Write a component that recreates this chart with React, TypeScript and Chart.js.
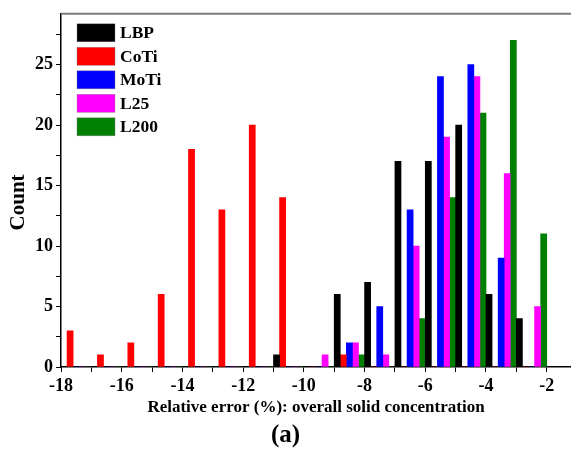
import React, { useEffect, useRef } from 'react';
import { Chart, registerables } from 'chart.js';

Chart.register(...registerables);

// ---- data ----
const binStarts = [-18, -17, -16, -15, -14, -13, -12, -11, -10, -9, -8, -7, -6, -5, -4, -3];
const seriesNames = ['LBP', 'CoTi', 'MoTi', 'L25', 'L200'];
const lbpCounts = [0, 0, 0, 0, 0, 0, 0, 1, 0, 6, 7, 17, 17, 20, 6, 4];
const cotiCounts = [3, 1, 2, 6, 18, 13, 20, 14, 0, 1, 0, 0, 0, 0, 0, 0];
const motiCounts = [0, 0, 0, 0, 0, 0, 0, 0, 0, 2, 5, 13, 24, 25, 9, 0];
const l25Counts = [0, 0, 0, 0, 0, 0, 0, 0, 1, 2, 1, 10, 19, 24, 16, 5];
const l200Counts = [0, 0, 0, 0, 0, 0, 0, 0, 0, 1, 0, 4, 14, 21, 27, 11];
const xTickValues = [-18, -17, -16, -15, -14, -13, -12, -11, -10, -9, -8, -7, -6, -5, -4, -3, -2];
const yTickValues = [0, 2.5, 5, 7.5, 10, 12.5, 15, 17.5, 20, 22.5, 25, 27.5];
const xTitle = 'Relative error (%): overall solid concentration';
const yTitle = 'Count';
const panelLabel = '(a)';

const seriesCounts = [lbpCounts, cotiCounts, motiCounts, l25Counts, l200Counts];
const seriesColors = ['#000000', '#ff0000', '#0000ff', '#ff00ff', '#008000'];

const SERIF = '"Liberation Serif", "Times New Roman", serif';

const framePlugin = {
  id: 'frameAndLegend',
  afterDraw(chart: any) {
    const ctx = chart.ctx;
    const { left, right, top, bottom } = chart.chartArea;
    ctx.save();
    // top frame line
    ctx.strokeStyle = '#7a7a7a';
    ctx.lineWidth = 2;
    ctx.beginPath();
    ctx.moveTo(left, top);
    ctx.lineTo(right, top);
    ctx.stroke();

    // legend inside plot
    chart.data.datasets.forEach((ds: any, i: number) => {
      const y = top + 10 + i * 23.5;
      const x = left + 16;
      ctx.fillStyle = ds.backgroundColor;
      ctx.fillRect(x, y, 38, 18);
      ctx.strokeStyle = 'rgba(120,120,120,0.6)';
      ctx.lineWidth = 0.6;
      ctx.strokeRect(x, y, 38, 18);
      ctx.fillStyle = '#000';
      ctx.font = `bold 17.5px ${SERIF}`;
      ctx.textAlign = 'left';
      ctx.textBaseline = 'middle';
      ctx.fillText(ds.label, x + 43, y + 10);
    });

    // y axis title
    ctx.translate(19, (top + bottom) / 2 + 12);
    ctx.rotate(-Math.PI / 2);
    ctx.fillStyle = '#000';
    ctx.font = `bold 21px ${SERIF}`;
    ctx.textAlign = 'center';
    ctx.textBaseline = 'middle';
    ctx.fillText(yTitle, 0, 0);
    ctx.restore();
  },
};

export default function App() {
  const canvasRef = useRef<HTMLCanvasElement | null>(null);

  useEffect(() => {
    document.body.style.margin = '0';
    const canvas = canvasRef.current;
    if (!canvas) return;

    const datasets = seriesNames.map((name, i) => ({
      label: name,
      data: binStarts.map((b, j) => ({ x: b + 0.5, y: seriesCounts[i][j] })),
      backgroundColor: seriesColors[i],
      borderWidth: 0,
      categoryPercentage: 1,
      barPercentage: 1,
    }));

    const chart = new Chart(canvas, {
      type: 'bar',
      data: { datasets },
      plugins: [framePlugin],
      options: {
        responsive: false,
        animation: false,
        devicePixelRatio: 1,
        layout: { padding: { top: 13, left: 0, right: 0, bottom: 0 } },
        plugins: {
          legend: { display: false },
          tooltip: { enabled: false },
          title: {
            display: true,
            position: 'bottom',
            text: panelLabel,
            color: '#000',
            font: { family: SERIF, size: 25, weight: 'bold', lineHeight: 1 },
            padding: { top: 0, bottom: 2.5 },
          },
        },
        scales: {
          x: {
            type: 'linear',
            min: -18,
            max: -1.2,
            offset: false,
            afterBuildTicks: (s: any) => {
              s.ticks = xTickValues.map((v) => ({ value: v }));
            },
            afterFit: (s: any) => {
              s.height = 56.5;
            },
            ticks: {
              autoSkip: false,
              maxRotation: 0,
              padding: 4,
              color: '#000',
              font: { family: SERIF, size: 18, weight: 'bold' },
              callback: (v: any) => (Number(v) % 2 === 0 ? String(v) : ''),
            },
            grid: { drawOnChartArea: false, drawTicks: true, tickLength: 5, color: '#000', offset: false },
            border: { color: '#000', width: 1.5 },
            title: {
              display: true,
              text: xTitle,
              color: '#000',
              font: { family: SERIF, size: 17, weight: 'bold' },
              padding: { top: 0, bottom: 5.3 },
            },
          },
          y: {
            type: 'linear',
            min: 0,
            max: 29.2,
            afterBuildTicks: (s: any) => {
              s.ticks = yTickValues.map((v) => ({ value: v }));
            },
            afterFit: (s: any) => {
              s.width = 61;
            },
            ticks: {
              padding: 3,
              color: '#000',
              font: { family: SERIF, size: 18, weight: 'bold' },
              callback: (v: any) => (Number(v) % 5 === 0 ? String(v) : ''),
            },
            grid: { drawOnChartArea: false, drawTicks: true, tickLength: 5, color: '#000' },
            border: { color: '#000', width: 1.5 },
          },
        },
      } as any,
    });

    return () => chart.destroy();
  }, []);

  return (
    <div style={{ width: 571, height: 451, background: '#fff' }}>
      <canvas ref={canvasRef} width={571} height={451} style={{ display: 'block' }} />
    </div>
  );
}
